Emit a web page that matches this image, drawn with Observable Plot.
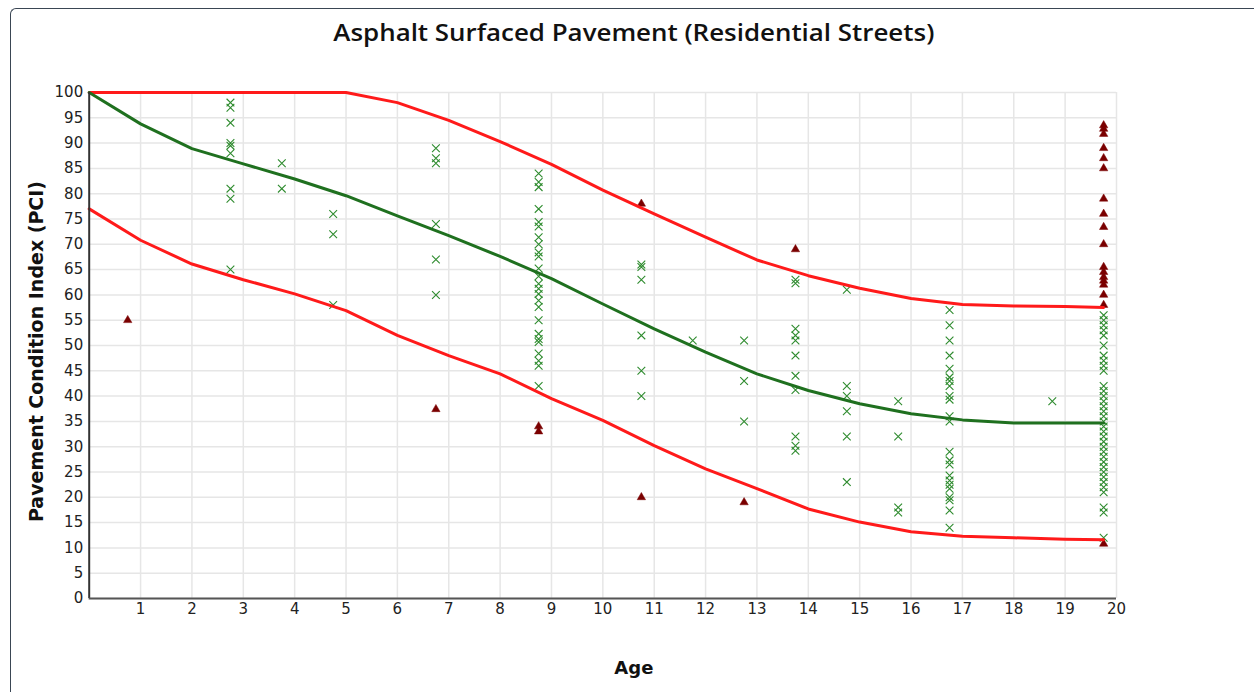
<!DOCTYPE html>
<html><head><meta charset="utf-8">
<script src="https://cdn.jsdelivr.net/npm/d3@7"></script>
<script src="https://cdn.jsdelivr.net/npm/@observablehq/plot@0.6"></script>
<style>
html,body{margin:0;padding:0;background:#fff;}
#wrap{position:relative;width:1254px;height:692px;overflow:hidden;background:#fff;}
#frame{position:absolute;left:10px;top:8px;width:1260px;height:700px;border-left:1.5px solid #3a4654;border-top:1.5px solid #3a4654;border-top-left-radius:6px;}
#chart{position:absolute;left:0;top:0;}
</style></head><body>
<div id="wrap"><div id="frame"></div><div id="chart"></div></div>
<script>
// ---- data ----
const titleText = "Asphalt Surfaced Pavement (Residential Streets)";
const xLabel = "Age";
const yLabel = "Pavement Condition Index (PCI)";
const xTicks = [1,2,3,4,5,6,7,8,9,10,11,12,13,14,15,16,17,18,19,20];
const yTicks = [0,5,10,15,20,25,30,35,40,45,50,55,60,65,70,75,80,85,90,95,100];

const curveAges   = [0,1,2,3,4,5,6,7,8,9,10,11,12,13,14,15,16,17,18,19,19.75];
const upperLimit  = [100,100,100,100,100,100,98,94.5,90.3,85.8,80.7,76.0,71.4,66.9,63.8,61.3,59.3,58.1,57.8,57.7,57.5];
const averageCurve= [100,93.8,88.9,85.9,82.9,79.6,75.6,71.7,67.6,63.2,58.2,53.3,48.7,44.4,41.1,38.5,36.5,35.3,34.7,34.7,34.7];
const lowerLimit  = [77,70.8,66.1,63.0,60.2,56.9,52.0,48.0,44.4,39.5,35.2,30.2,25.6,21.7,17.7,15.1,13.2,12.3,12.0,11.7,11.6];

// observed sections within the band (green crosses), grouped by age
const bandAges = [2.75,3.75,4.75,6.75,8.75,10.75,11.75,12.75,13.75,14.75,15.75,16.75,18.75,19.75];
const bandPCI = [
  [98,97,94,90,89.5,88,81,79,65],
  [86,81],
  [76,72,58],
  [89,87,86,74,67,60],
  [84,82.3,81.3,77,74.4,73.5,71.4,70,68.4,67.6,65.2,63.7,62.2,61.2,60.2,58.9,57.6,55,52.3,51.3,50.7,48.4,47,46,42],
  [66,65.5,63,52,45,40],
  [51],
  [51,43,35],
  [63,62.3,53.3,52,51,48,44,41.2,32,30.2,29.2],
  [61,42,40,37,32,23],
  [39,32,18,17],
  [57,54,51,48,45.4,43.7,43,42,40,39.3,36,35,29,27.3,26.5,24.3,23.3,22.5,21.7,20,19.4,17.4,14],
  [39],
  [56,55,54,53,52,50,48,47,46,45,42,41,40,39,38,37,36,35,34,33,32,31,30,29,28,27,26,25,24,23,22,21,18,17,12]
];

// observed sections outside the band (dark red triangles)
const outAges = [0.75,6.75,8.75,10.75,12.75,13.75,19.75];
const outPCI = [
  [55],
  [37.4],
  [34,33],
  [78,20],
  [19],
  [69],
  [93.5,92.8,91.8,89,87,85,79,76,73.4,70,65.5,64.5,63.5,62.8,62,60,58,10.8]
];

// ---- build tables ----
const curves = curveAges.map((a,i)=>({age:a, upper:upperLimit[i], avg:averageCurve[i], lower:lowerLimit[i]}));
const bandPts = bandAges.flatMap((a,i)=>bandPCI[i].map(v=>({age:a, pci:v})));
const outPts = outAges.flatMap((a,i)=>outPCI[i].map(v=>({age:a, pci:v})));

const chart = Plot.plot({
  width:1254, height:692,
  marginLeft:88.7, marginRight:138, marginTop:92, marginBottom:94,
  style:{fontFamily:"DejaVu Sans", fontSize:"15px", color:"#222", background:"transparent", overflow:"visible"},
  x:{domain:[0,20], ticks:xTicks, tickSize:0, tickPadding:5, label:null},
  y:{domain:[0,100], ticks:yTicks, tickSize:0, tickPadding:6, label:null},
  marks:[
    Plot.ruleX(xTicks, {stroke:"#e6e6e6", strokeWidth:1.5}),
    Plot.ruleY(yTicks, {stroke:"#e6e6e6", strokeWidth:1.5}),
    Plot.dot(bandPts, {x:"age", y:"pci", symbol:"times", r:3.6, stroke:"#2e8b2e", strokeWidth:1.1}),
    Plot.dot(outPts, {x:"age", y:"pci", symbol:"triangle", r:3.1, fill:"#7a0000", stroke:"#7a0000", strokeWidth:0.5}),
    Plot.line(curves, {x:"age", y:"upper", stroke:"#ff1a1a", strokeWidth:3}),
    Plot.line(curves, {x:"age", y:"lower", stroke:"#ff1a1a", strokeWidth:3}),
    Plot.line(curves, {x:"age", y:"avg", stroke:"#1f701f", strokeWidth:3}),
    Plot.ruleX([0], {stroke:"#333", strokeWidth:2}),
    Plot.ruleY([0], {stroke:"#555", strokeWidth:2}),
    Plot.text([titleText], {frameAnchor:"top", dx:31, dy:-59, lineAnchor:"middle", textAnchor:"middle", fontFamily:"Open Sans", fontWeight:600, fontSize:24, fill:"#111", className:"chart-title"}),
    Plot.text([xLabel], {frameAnchor:"bottom", dx:31, dy:70, lineAnchor:"middle", textAnchor:"middle", fontFamily:"DejaVu Sans", fontWeight:"bold", fontSize:18, fill:"#111"}),
    Plot.text([yLabel], {frameAnchor:"left", dx:-52, dy:6, rotate:-90, lineAnchor:"middle", textAnchor:"middle", fontFamily:"DejaVu Sans", fontWeight:"bold", fontSize:19, fill:"#111"})
  ]
});
document.getElementById("chart").appendChild(chart);
// stretch title to the reference's width
d3.select(chart).selectAll("g.chart-title text, .chart-title text").attr("textLength", 601).attr("lengthAdjust", "spacingAndGlyphs");
</script>
</body></html>
